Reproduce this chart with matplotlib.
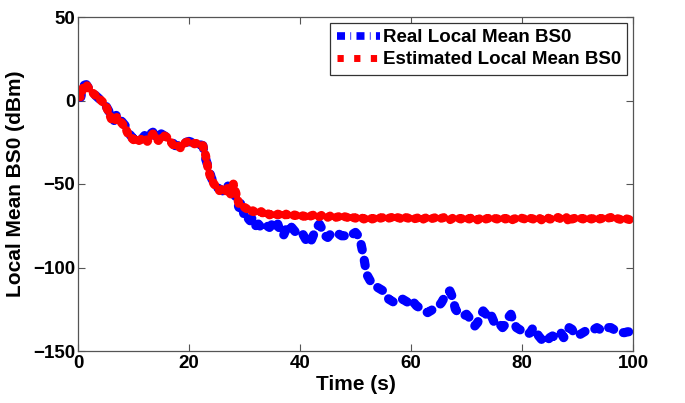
import numpy as np
import matplotlib
matplotlib.use("Agg")
import matplotlib.pyplot as plt
from matplotlib.lines import Line2D

plt.rcParams['font.family'] = ['Liberation Sans', 'DejaVu Sans']
plt.rcParams['font.weight'] = 'bold'

time_s = np.arange(0, 100.01, 0.5)

real_bs0 = [
    3, 2, 9, 9.5, 7, 5, 3.5, 2, 0.5, -1,
    -3, -6, -10, -12, -8, -11, -13, -15, -19, -21,
    -23, -22, -24, -23, -21, -23, -20, -19, -22, -23,
    -20, -21, -22, -24, -25, -27, -27, -28, -26, -25,
    -24.5, -25, -26, -25.5, -26.5, -27, -35, -40, -46, -50,
    -52, -53, -54, -55, -51, -55, -52, -60, -64, -60,
    -71, -70, -72, -70, -75, -74, -76, -77, -75, -76,
    -74, -77, -74, -79, -81, -77, -74, -76, -78, -80,
    -79, -80, -83, -86, -84, -80, -76, -74, -77, -81,
    -82, -80, -79, -79, -80, -81, -81, -80, -81, -80,
    -79, -81, -86, -94, -104, -107, -110, -111, -112, -113,
    -114, -116, -119, -120, -121, -120, -119, -119, -120, -121,
    -119, -121, -123, -124, -125, -126, -127, -126, -125, -124,
    -123, -121, -118, -115, -114, -118, -125, -127, -128, -129,
    -128, -130, -132, -135, -133, -129, -126, -128, -131, -129,
    -133, -135, -134, -136, -134, -130, -128, -133, -136, -137,
    -138, -139, -140, -139, -136, -138, -141, -143, -145, -144,
    -142, -141, -142, -141, -139, -142, -140, -136, -137, -140,
    -141, -140, -139, -138, -138, -137, -137, -136, -137, -138,
    -137, -136, -136, -137, -138, -139, -139, -139, -138.5, -138.5,
    -138.5,
]

estimated_bs0 = [
    3, 2, 9, 9.5, 7, 5, 3.5, 2, 0.5, -1,
    -3, -7, -11, -13, -10, -12, -14, -16, -20, -22,
    -23.5, -22, -24, -23, -22, -24.5, -22, -20, -23, -24,
    -21, -21, -22, -24, -26, -28, -27, -28.5, -26, -25,
    -24.5, -25, -26, -25.5, -27, -27, -33, -42, -47, -50,
    -52, -54, -53, -55, -52, -56, -50, -56, -62, -63,
    -64, -65, -67, -66, -67, -67.5, -66.5, -68, -67, -68.5,
    -68, -69, -68, -68.5, -69.5, -68, -69, -69.5, -68.5, -69,
    -70, -69, -69.5, -70.5, -69, -68.5, -70, -69.5, -68.5, -69.5,
    -70, -69, -70.5, -70, -69.5, -70.5, -69.5, -70, -71, -70,
    -70.5, -69.5, -70, -71, -70.5, -70, -71, -70.5, -69.5, -70.5,
    -70, -71, -70.5, -70, -71, -70, -70.5, -71.5, -70, -70.5,
    -70, -71, -70.5, -70, -71.5, -70.5, -70, -71, -70.5, -70,
    -71, -70.5, -70, -71, -71.5, -70.5, -70, -70.5, -71, -70,
    -70.5, -71, -70, -70.5, -71.5, -70.5, -70, -71, -70.5, -70,
    -70.5, -71, -70.5, -70, -71, -70.5, -72, -71, -70.5, -70,
    -70.5, -71, -70, -70.5, -71, -70.5, -70, -71.5, -70.5, -70,
    -71, -71, -70.5, -70, -71, -70.5, -70, -73, -71, -70.5,
    -70, -70.5, -71, -70, -70.5, -71, -70.5, -70, -71, -70.5,
    -71, -70.5, -70, -71, -70.5, -71, -71.5, -70.5, -71, -71.5,
    -71.5,
]

labels = ["Real Local Mean BS0", "Estimated Local Mean BS0"]
x_ticks = [0, 20, 40, 60, 80, 100]
y_ticks = [-150, -100, -50, 0, 50]

BLUE = (0, 0, 1)
RED = (1, 0, 0)

fig = plt.figure(figsize=(6.85, 4.03), dpi=100)
ax = fig.add_axes([78/685, 1-351/403, 555/685, 334/403])

ax.plot(time_s, real_bs0, color=BLUE, lw=6.6,
        linestyle=(0, (0.6, 1.15)), dash_capstyle='round')
ax.plot(time_s, estimated_bs0, color=RED, lw=6.4,
        linestyle=(0, (0.3, 0.8)), dash_capstyle='round')

ax.set_xlim(0, 100)
ax.set_ylim(-150, 50)
ax.set_xticks(x_ticks)
ax.set_yticks(y_ticks)
ax.tick_params(direction='in', length=5, width=0.8, color='#555555',
               top=True, right=True, labelsize=13.5)
ax.tick_params(axis='y', pad=2)
ax.tick_params(axis='x', pad=3)
for lab in ax.get_xticklabels() + ax.get_yticklabels():
    lab.set_fontweight('bold')
for sp in ax.spines.values():
    sp.set_color('#555555')
    sp.set_linewidth(0.9)

ax.set_xlabel("Time (s)", fontsize=15, fontweight='bold', labelpad=2)
ax.set_ylabel("Local Mean BS0 (dBm)", fontsize=15, fontweight='bold', labelpad=6)

handles = [
    Line2D([], [], color=BLUE, lw=5.5, linestyle=(0, (1.05, 0.7, 0.1, 0.7)),
           dash_capstyle='butt'),
    Line2D([], [], color=RED, lw=5.0, linestyle=(0, (0.9, 1.5)),
           dash_capstyle='butt'),
]
leg = ax.legend(handles, labels, loc='upper right', fancybox=False, framealpha=1,
                edgecolor='#333333', borderaxespad=0.3, handlelength=2.3,
                handletextpad=0.15, labelspacing=0.25, borderpad=0.35,
                prop={'weight': 'bold', 'size': 13.5})
leg.get_frame().set_linewidth(0.9)

fig.savefig("out.png", dpi=100)
